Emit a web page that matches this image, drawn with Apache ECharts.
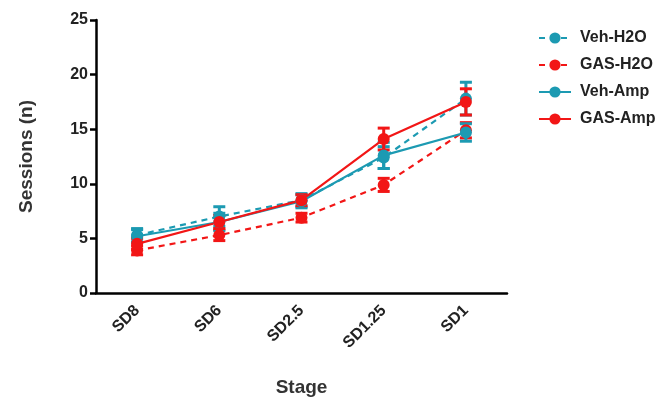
<!DOCTYPE html>
<html><head><meta charset="utf-8">
<script src="https://cdn.jsdelivr.net/npm/echarts@6/dist/echarts.min.js"></script>
<style>html,body{margin:0;padding:0;background:#fff}#c{width:668px;height:405px}</style>
</head><body><div id="c"></div>
<script>
const categories = ['SD8','SD6','SD2.5','SD1.25','SD1'];
const yTicks = [0,5,10,15,20,25];
const vehH2O = [5.3, 7.0, 8.5, 12.4, 17.8];
const vehH2OErr = [0.6, 0.9, 0.6, 1.0, 1.5];
const gasH2O = [3.9, 5.3, 6.9, 9.9, 14.9];
const gasH2OErr = [0.4, 0.5, 0.4, 0.6, 0.7];
const vehAmp = [5.2, 6.5, 8.4, 12.6, 14.7];
const vehAmpErr = [0.6, 0.8, 0.6, 1.2, 0.8];
const gasAmp = [4.5, 6.5, 8.5, 14.1, 17.5];
const gasAmpErr = [0.5, 0.6, 0.5, 1.0, 1.2];

const TEAL = '#1c9ab2', RED = '#f21616';
const font = "'Liberation Sans', Arial, sans-serif";

function errSeries(name, vals, errs, color){
  return {
    type:'custom', name:name + ' err', z:3, silent:true,
    data: vals.map((v,i)=>[i, v-errs[i], v+errs[i]]),
    renderItem:function(params, api){
      const lo = api.coord([api.value(0), api.value(1)]);
      const hi = api.coord([api.value(0), api.value(2)]);
      const w = 6;
      const st = {stroke:color, lineWidth:3};
      return {type:'group', children:[
        {type:'line', shape:{x1:lo[0],y1:lo[1],x2:hi[0],y2:hi[1]}, style:st},
        {type:'line', shape:{x1:lo[0]-w,y1:lo[1],x2:lo[0]+w,y2:lo[1]}, style:st},
        {type:'line', shape:{x1:hi[0]-w,y1:hi[1],x2:hi[0]+w,y2:hi[1]}, style:st}
      ]};
    }
  };
}
function lineSeries(name, vals, color, dashed){
  return {
    type:'line', name:name, data:vals, z:4,
    symbol:'circle', symbolSize:12,
    itemStyle:{color:color},
    lineStyle:{color:color, width:2.2, type: dashed ? [6,5] : 'solid'}
  };
}

const chart = echarts.init(document.getElementById('c'), null, {renderer:'canvas'});
chart.setOption({
  animation:false,
  backgroundColor:'#fff',
  grid:{left:96, right:161, top:20, bottom:112},
  legend:{
    data:['Veh-H2O','GAS-H2O','Veh-Amp','GAS-Amp'],
    orient:'vertical', left:533, top:25, itemGap:11,
    itemWidth:32, itemHeight:14,
    textStyle:{fontFamily:font, fontWeight:'bold', fontSize:16, color:'#222', padding:[0,0,0,4]}
  },
  xAxis:{
    type:'category', data:categories, boundaryGap:true,
    name:'Stage', nameLocation:'middle', nameGap:85,
    nameTextStyle:{fontFamily:font, fontSize:19, color:'#333', fontWeight:'bold'},
    axisLine:{lineStyle:{color:'#000', width:2.5}},
    axisTick:{alignWithLabel:true, length:6, lineStyle:{color:'#000', width:2.5}},
    axisLabel:{rotate:45, fontFamily:font, fontWeight:'bold', fontSize:16, color:'#222', margin:15}
  },
  yAxis:{
    type:'value', min:0, max:25, interval:5,
    name:'Sessions (n)', nameLocation:'middle', nameGap:60,
    nameTextStyle:{fontFamily:font, fontSize:19, color:'#333', fontWeight:'bold'},
    axisLine:{show:true, lineStyle:{color:'#000', width:2.5}},
    axisTick:{show:true, length:6, lineStyle:{color:'#000', width:2.5}},
    splitLine:{show:false},
    axisLabel:{fontFamily:font, fontWeight:'bold', fontSize:16, color:'#222', margin:8,
      formatter:function(v){return yTicks.indexOf(v)>=0 ? String(v) : '';}}
  },
  series:[
    errSeries('Veh-H2O', vehH2O, vehH2OErr, TEAL),
    errSeries('GAS-H2O', gasH2O, gasH2OErr, RED),
    errSeries('Veh-Amp', vehAmp, vehAmpErr, TEAL),
    errSeries('GAS-Amp', gasAmp, gasAmpErr, RED),
    lineSeries('Veh-H2O', vehH2O, TEAL, true),
    lineSeries('GAS-H2O', gasH2O, RED, true),
    lineSeries('Veh-Amp', vehAmp, TEAL, false),
    lineSeries('GAS-Amp', gasAmp, RED, false)
  ]
});
</script></body></html>
